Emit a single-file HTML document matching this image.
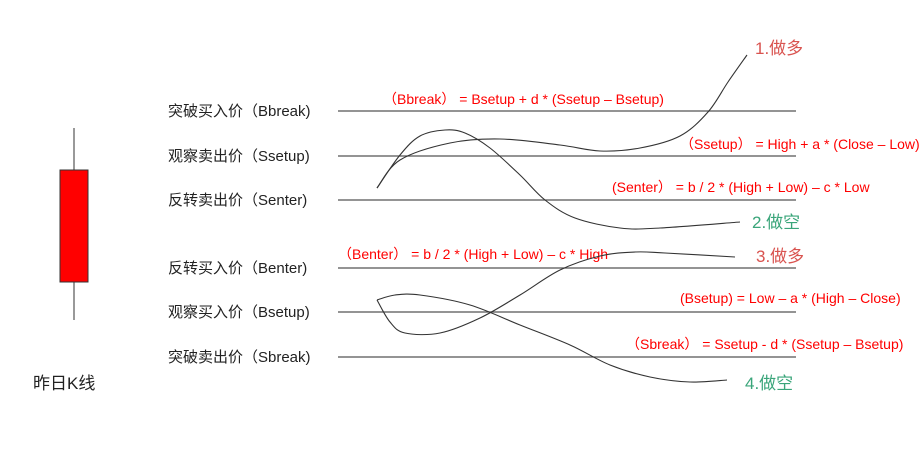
<!DOCTYPE html>
<html><head><meta charset="utf-8"><style>
html,body{margin:0;padding:0;background:#fff;}
svg{display:block;font-family:"Liberation Sans","Noto Sans CJK SC",sans-serif;}
</style></head><body>
<svg id="c" width="922" height="470" viewBox="0 0 922 470">
<line x1="74" y1="128" x2="74" y2="320" stroke="#333" stroke-width="1"/>
<rect x="60" y="170" width="28" height="112" fill="#f00" stroke="#333" stroke-width="1"/>
<text x="33" y="389" font-size="17" fill="#222">昨日K线</text>
<g id="lines"></g>
<g id="curves"></g>
</svg>
<script>
const levelNames=["突破买入价（Bbreak)","观察卖出价（Ssetup)","反转卖出价（Senter)","反转买入价（Benter)","观察买入价（Bsetup)","突破卖出价（Sbreak)"];
const levelY=[111,156,200,268,312,357];
const formulas=["（Bbreak） = Bsetup + d * (Ssetup – Bsetup)","（Ssetup） = High + a * (Close – Low)","(Senter） = b / 2 * (High + Low) – c * Low","（Benter） = b / 2 * (High + Low) – c * High","(Bsetup) = Low – a * (High – Close)","（Sbreak） = Ssetup - d * (Ssetup – Bsetup)"];
const formulaX=[383,680,612,338,680,626];
const formulaY=[104,149,192,259,303,349];
const curve1=[[377,188],[400,160],[450,143],[500,139],[560,145],[600,151],[640,148],[680,136],[708,112],[728,82],[747,55]];
const curve2=[[377,188],[400,155],[420,136],[445,130],[465,133],[490,148],[520,175],[545,200],[575,218],[620,228],[660,228],[740,222]];
const curve3=[[377,300],[390,322],[405,333],[440,333],[480,318],[520,295],[560,270],[600,256],[635,252],[665,253],[735,257]];
const curve4=[[377,300],[395,295],[420,295],[470,305],[520,325],[570,345],[610,365],[650,377],[690,382],[727,380]];
const tags=["1.做多","2.做空","3.做多","4.做空"];
const tagPos=[[755,54],[752,228],[756,262],[745,389]];
const tagCol=["#d9534f","#3aa57a","#d9534f","#3aa57a"];
const NS="http://www.w3.org/2000/svg";
const L=document.getElementById('lines'),C=document.getElementById('curves');
function mk(t,a,p){const e=document.createElementNS(NS,t);for(const k in a)e.setAttribute(k,a[k]);p.appendChild(e);return e;}
levelY.forEach((y,i)=>{
 const ln=mk('line',{x1:338,y1:y,x2:796,y2:y,stroke:'#555','stroke-width':1.2},L);
 
 
 const t=mk('text',{x:168,y:y+5,'font-size':15,fill:'#222'},L);t.textContent=levelNames[i];
 
 
 const f=mk('text',{x:formulaX[i],y:formulaY[i],'font-size':14,fill:'#f00'},L);f.textContent=formulas[i];
 
 
});
function path(p){let d=`M${p[0][0]},${p[0][1]}`;for(let i=0;i<p.length-1;i++){const a=p[i-1]||p[i],b=p[i],c=p[i+1],e=p[i+2]||c;
 d+=` C${b[0]+(c[0]-a[0])/6},${b[1]+(c[1]-a[1])/6} ${c[0]-(e[0]-b[0])/6},${c[1]-(e[1]-b[1])/6} ${c[0]},${c[1]}`;}return d;}
[curve1,curve2,curve3,curve4].forEach((p,i)=>{
 const e=mk('path',{d:path(p),fill:'none',stroke:'#333','stroke-width':1.1},C);
 
 
 const t=mk('text',{x:tagPos[i][0],y:tagPos[i][1],'font-size':17,fill:tagCol[i]},C);t.textContent=tags[i];
 
 
});
</script>
</body></html>
